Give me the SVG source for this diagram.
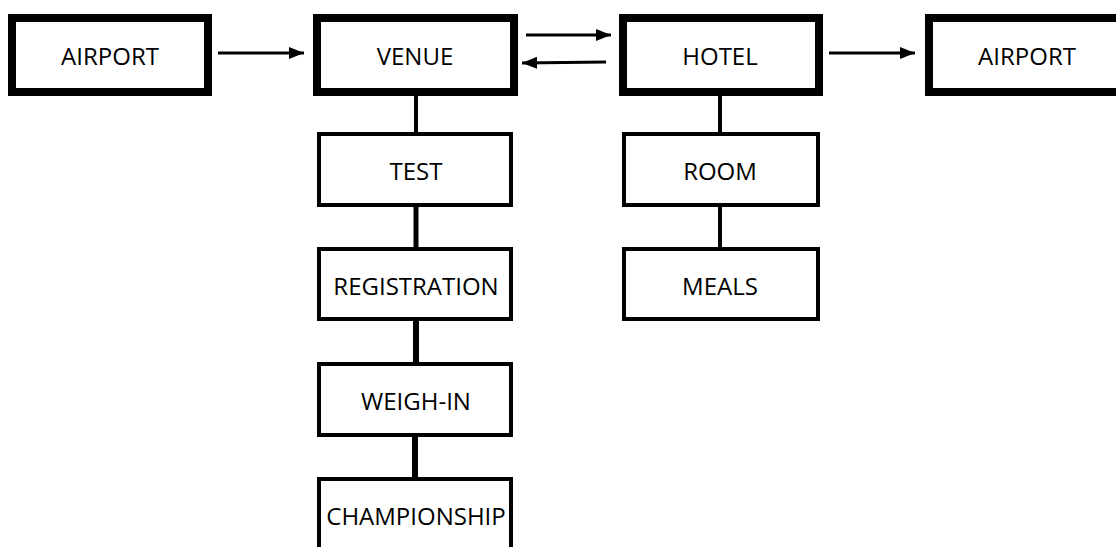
<svg xmlns="http://www.w3.org/2000/svg" width="1116" height="547" viewBox="0 0 1116 547">
<defs>
<marker id="ah" markerUnits="userSpaceOnUse" markerWidth="16" markerHeight="16" viewBox="0 0 16 16" refX="15" refY="8" orient="auto">
<path d="M0,2 L15,8 L0,14 Z" fill="#000"/>
</marker>
<style>
.main{fill:#fff;stroke:#000;stroke-width:8}
.sub{fill:#fff;stroke:#000;stroke-width:4}
.lbl{font-family:"Open Sans",sans-serif;font-size:24px;fill:#000;text-anchor:middle;dominant-baseline:central}
.arr{stroke:#000;stroke-width:3;fill:none;marker-end:url(#ah)}
.stem{stroke:#000;fill:none}
</style>
</defs>
<rect width="1116" height="547" fill="#fff"/>
<g id="connectors">
<line class="arr" x1="218" y1="53" x2="304" y2="53"/>
<line class="arr" x1="526" y1="35" x2="611" y2="35"/>
<line class="arr" x1="606" y1="62" x2="522" y2="63"/>
<line class="arr" x1="829" y1="53" x2="915" y2="53"/>
<line class="stem" stroke-width="4" x1="416" y1="96" x2="416" y2="132"/>
<line class="stem" stroke-width="5" x1="416" y1="207" x2="416" y2="247"/>
<line class="stem" stroke-width="6" x1="416" y1="321" x2="416" y2="362"/>
<line class="stem" stroke-width="6" x1="415" y1="437" x2="415" y2="477"/>
<line class="stem" stroke-width="4" x1="720" y1="96" x2="720" y2="132"/>
<line class="stem" stroke-width="4" x1="720" y1="207" x2="720" y2="247"/>
</g>
<g id="airport1"><rect class="main" x="12" y="18" width="196" height="74"/><text class="lbl" x="110" y="55">AIRPORT</text></g>
<g id="venue"><rect class="main" x="317" y="18" width="197" height="74"/><text class="lbl" x="415" y="55">VENUE</text></g>
<g id="hotel"><rect class="main" x="623" y="18" width="196" height="74"/><text class="lbl" x="720" y="55">HOTEL</text></g>
<g id="airport2"><rect class="main" x="929" y="18" width="200" height="74"/><text class="lbl" x="1027" y="55">AIRPORT</text></g>
<g id="test"><rect class="sub" x="319" y="134" width="192" height="71"/><text class="lbl" x="416" y="170">TEST</text></g>
<g id="registration"><rect class="sub" x="319" y="249" width="192" height="70"/><text class="lbl" x="416" y="285">REGISTRATION</text></g>
<g id="weighin"><rect class="sub" x="319" y="364" width="192" height="71"/><text class="lbl" x="416" y="400">WEIGH-IN</text></g>
<g id="championship"><rect class="sub" x="319" y="479" width="192" height="80"/><text class="lbl" x="416" y="515">CHAMPIONSHIP</text></g>
<g id="room"><rect class="sub" x="624" y="134" width="194" height="71"/><text class="lbl" x="720" y="170">ROOM</text></g>
<g id="meals"><rect class="sub" x="624" y="249" width="194" height="70"/><text class="lbl" x="720" y="285">MEALS</text></g>
</svg>
